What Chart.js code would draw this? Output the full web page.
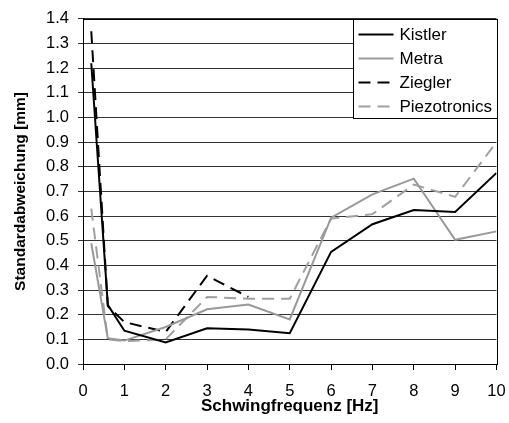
<!DOCTYPE html>
<html>
<head>
<meta charset="utf-8">
<script src="https://cdn.jsdelivr.net/npm/chart.js@4.4.0/dist/chart.umd.min.js"></script>
<style>
  html, body { margin: 0; padding: 0; background: #fff; }
  #wrap { width: 509px; height: 423px; position: relative; }
</style>
</head>
<body>
<div id="wrap"><canvas id="chart"></canvas></div>
<script>
// Messwerte (Standardabweichung in mm) je Schwingfrequenz
const freq = [0.2, 0.6, 1, 2, 3, 4, 5, 6, 7, 8, 9, 10];
const kistler = [1.22, 0.24, 0.135, 0.087, 0.145, 0.14, 0.125, 0.455, 0.567, 0.625, 0.617, 0.775];
const metra = [0.49, 0.105, 0.095, 0.15, 0.222, 0.241, 0.181, 0.594, 0.688, 0.752, 0.504, 0.538];
const ziegler = [1.35, 0.235, 0.17, 0.13, 0.358, 0.272]; // nur bis 4 Hz
const piezotronics = [0.63, 0.1, 0.093, 0.1, 0.272, 0.265, 0.265, 0.59, 0.608, 0.728, 0.678, 0.9];
const seriesNames = ['Kistler', 'Metra', 'Ziegler', 'Piezotronics'];

const xTitle = 'Schwingfrequenz [Hz]';
const yTitle = 'Standardabweichung [mm]';

const FONT = "'Liberation Sans', Arial, sans-serif";

function toPoints(values) {
    return values.map((v, i) => ({ x: freq[i], y: v }));
}

// Rahmen um die Zeichenfläche + Legende oben rechts
const frameLegend = {
    id: 'frameLegend',
    afterDatasetsDraw(chart) {
        const ctx = chart.ctx;
        const a = chart.chartArea;
        ctx.save();
        ctx.strokeStyle = '#000';
        ctx.lineWidth = 1;
        ctx.setLineDash([]);
        ctx.strokeRect(Math.round(a.left) + 0.5, Math.round(a.top) + 0.5,
            Math.round(a.right - a.left), Math.round(a.bottom - a.top));

        const w = 144, h = 99;
        const lx = Math.round(a.right) - w + 0.5;
        const ly = Math.round(a.top) + 0.5;
        ctx.fillStyle = '#fff';
        ctx.fillRect(lx, ly, w, h);
        ctx.strokeRect(lx, ly, w, h);

        ctx.font = '17px ' + FONT;
        ctx.textBaseline = 'middle';
        chart.data.datasets.forEach((ds, i) => {
            const cy = ly + 15 + i * 24;
            ctx.strokeStyle = ds.borderColor;
            ctx.lineWidth = ds.borderWidth;
            ctx.setLineDash(ds.borderDash || []);
            ctx.beginPath();
            ctx.moveTo(lx + 5, cy);
            ctx.lineTo(lx + 40, cy);
            ctx.stroke();
            ctx.setLineDash([]);
            ctx.fillStyle = '#000';
            ctx.fillText(ds.label, lx + 46, cy + 1);
        });
        ctx.restore();
    }
};

const ctx = document.getElementById('chart').getContext('2d');
new Chart(ctx, {
    type: 'line',
    data: {
        datasets: [
            { label: seriesNames[0], data: toPoints(kistler), borderColor: '#000', borderWidth: 2 },
            { label: seriesNames[1], data: toPoints(metra), borderColor: '#999', borderWidth: 2 },
            { label: seriesNames[2], data: toPoints(ziegler), borderColor: '#000', borderWidth: 2, borderDash: [12, 7] },
            { label: seriesNames[3], data: toPoints(piezotronics), borderColor: '#a0a0a0', borderWidth: 2, borderDash: [12, 7] }
        ]
    },
    options: {
        responsive: true,
        maintainAspectRatio: false,
        animation: false,
        layout: { padding: { left: 0, right: 12.5, top: 16, bottom: 0 } },
        elements: {
            point: { radius: 0 },
            line: { tension: 0, fill: false }
        },
        plugins: {
            legend: { display: false },
            tooltip: { enabled: false }
        },
        scales: {
            x: {
                type: 'linear',
                min: 0,
                max: 10,
                ticks: { stepSize: 1, color: '#000', font: { family: FONT, size: 16.5 }, padding: 12, maxRotation: 0 },
                grid: { drawOnChartArea: false, tickLength: 6, color: '#000' },
                border: { color: '#000' },
                title: { display: true, text: xTitle, color: '#000', font: { family: FONT, size: 17, weight: 'bold' }, padding: { top: 0, bottom: 6 } },
                afterFit(s) { s.height = 59; s.paddingLeft = 0; s.paddingRight = 0; }
            },
            y: {
                min: 0,
                max: 1.4,
                ticks: { stepSize: 0.1, color: '#000', font: { family: FONT, size: 16.5 }, padding: 9,
                    callback: (v) => v.toFixed(1) },
                grid: { color: '#333', lineWidth: 1, tickLength: 5 },
                border: { color: '#000' },
                title: { display: true, text: yTitle, color: '#000', font: { family: FONT, size: 15.5, weight: 'bold' }, padding: { top: 11, bottom: 0 } },
                afterFit(s) { s.width = 83; }
            }
        }
    },
    plugins: [frameLegend]
});
</script>
</body>
</html>
